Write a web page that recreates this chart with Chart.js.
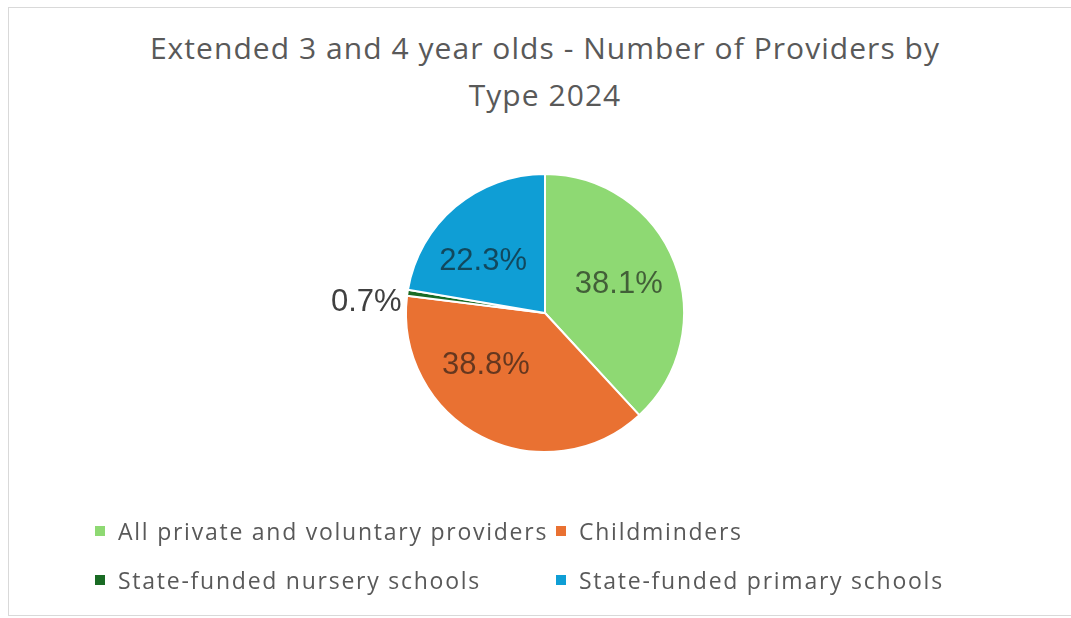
<!DOCTYPE html>
<html>
<head>
<meta charset="utf-8">
<script src="https://cdn.jsdelivr.net/npm/chart.js@4.4.1/dist/chart.umd.min.js"></script>
<style>
  html, body { margin: 0; padding: 0; background: #fff; }
  body { width: 1071px; height: 618px; position: relative; overflow: hidden; font-family: "Open Sans", sans-serif; }
  #frame { position: absolute; left: 8px; top: 7px; width: 1080px; height: 609px; border: 1px solid #d9d9d9; box-sizing: border-box; }
  #title { position: absolute; left: 0; width: 1090px; top: 24px; text-align: center; color: #595959; font-size: 30px; line-height: 47px; letter-spacing: 1.05px; }
  #pie { position: absolute; left: 0; top: 0; }
  #legend { position: absolute; left: 95px; top: 517px; display: grid; grid-template-columns: 461px auto; row-gap: 21px; color: #595959; font-size: 23px; letter-spacing: 1.75px; }
  .item { display: flex; align-items: center; height: 28px; white-space: nowrap; }
  .swatch { width: 10px; height: 10px; margin-right: 13px; }
</style>
</head>
<body>
<div id="frame"></div>
<div id="title">Extended 3 and 4 year olds - Number of Providers by<br>Type 2024</div>
<canvas id="pie" width="1071" height="618"></canvas>
<div id="legend"></div>
<script>
const providerTypes = [
  'All private and voluntary providers',
  'Childminders',
  'State-funded nursery schools',
  'State-funded primary schools'
];
const sharePct = [38.1, 38.8, 0.7, 22.3];
const sliceColors = ['#8ED973', '#E97132', '#196B24', '#0F9ED5'];

// where each percentage label sits: fraction of radius (or px outside), angle nudge in degrees
const labelPlace = [
  { r: 0.57, turn: 0 },
  { r: 0.57, turn: 21 },
  { outside: 5, turn: -3 },
  { r: 0.58, turn: -10 }
];

const pctLabels = {
  id: 'pctLabels',
  afterDatasetsDraw(chart) {
    const ctx = chart.ctx;
    const meta = chart.getDatasetMeta(0);
    ctx.save();
    ctx.font = '31px "Liberation Sans", Arial, sans-serif';
    ctx.textBaseline = 'middle';
    meta.data.forEach((arc, i) => {
      const p = arc.getProps(['x', 'y', 'startAngle', 'endAngle', 'outerRadius'], true);
      const place = labelPlace[i];
      const mid = (p.startAngle + p.endAngle) / 2 + place.turn * Math.PI / 180;
      const text = sharePct[i].toFixed(1) + '%';
      if (place.outside !== undefined) {
        const rr = p.outerRadius + place.outside;
        ctx.textAlign = 'right';
        ctx.fillStyle = '#404040';
        ctx.fillText(text, p.x + Math.cos(mid) * rr, p.y + Math.sin(mid) * rr + 3);
      } else {
        const rr = p.outerRadius * place.r;
        ctx.textAlign = 'center';
        ctx.fillStyle = 'rgba(20,20,20,0.62)';
        ctx.fillText(text, p.x + Math.cos(mid) * rr, p.y + Math.sin(mid) * rr);
      }
    });
    ctx.restore();
  }
};

new Chart(document.getElementById('pie'), {
  type: 'pie',
  data: {
    labels: providerTypes,
    datasets: [{
      data: sharePct,
      backgroundColor: sliceColors,
      borderColor: '#ffffff',
      borderWidth: 2
    }]
  },
  options: {
    responsive: false,
    animation: false,
    layout: { padding: { left: 405, right: 386, top: 173, bottom: 165 } },
    plugins: {
      legend: { display: false },
      title: { display: false },
      tooltip: { enabled: false }
    }
  },
  plugins: [pctLabels]
});

// two-column legend, built from the same arrays
const legend = document.getElementById('legend');
providerTypes.forEach((name, i) => {
  const item = document.createElement('div');
  item.className = 'item';
  const sw = document.createElement('span');
  sw.className = 'swatch';
  sw.style.background = sliceColors[i];
  item.appendChild(sw);
  item.appendChild(document.createTextNode(name));
  legend.appendChild(item);
});
</script>
</body>
</html>
